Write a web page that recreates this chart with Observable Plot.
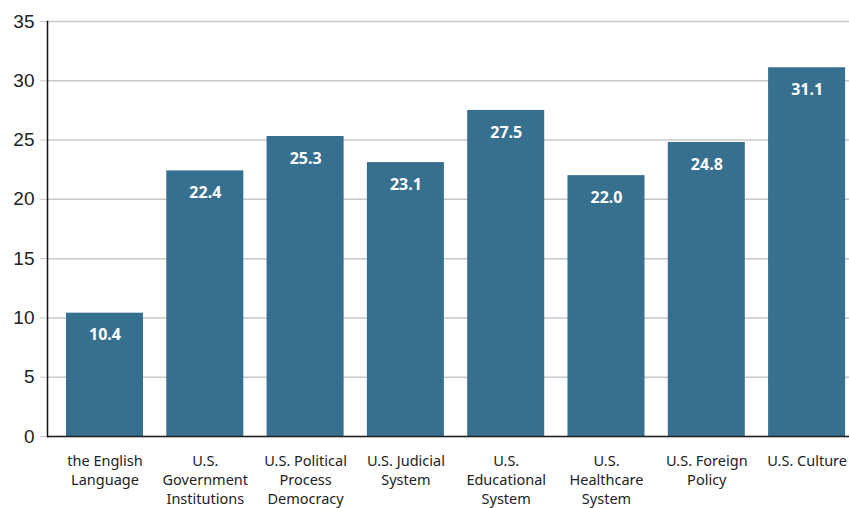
<!DOCTYPE html>
<html>
<head>
<meta charset="utf-8">
<script src="https://cdn.jsdelivr.net/npm/d3@7"></script>
<script src="https://cdn.jsdelivr.net/npm/@observablehq/plot@0.6"></script>
<style>
  html, body { margin: 0; padding: 0; background: #fff; }
  #chart svg { display: block; }
</style>
</head>
<body>
<div id="chart"></div>
<script>
const categories = [
  "the English\nLanguage",
  "U.S.\nGovernment\nInstitutions",
  "U.S. Political\nProcess\nDemocracy",
  "U.S. Judicial\nSystem",
  "U.S.\nEducational\nSystem",
  "U.S.\nHealthcare\nSystem",
  "U.S. Foreign\nPolicy",
  "U.S. Culture"
];
const values = [10.4, 22.4, 25.3, 23.1, 27.5, 22.0, 24.8, 31.1];
const yTicks = [0, 5, 10, 15, 20, 25, 30, 35];

const data = categories.map((c, i) => ({category: c, value: values[i]}));
const barColor = "#376f8f";

const chart = Plot.plot({
  width: 849,
  height: 508,
  marginLeft: 47,
  marginRight: 0,
  marginTop: 21,
  marginBottom: 72,
  style: {fontFamily: "'Noto Sans', sans-serif", background: "#fff"},
  x: {domain: categories, paddingInner: 0.232, paddingOuter: 0.114, align: 0.83, round: false, label: null},
  y: {domain: [0, 35], label: null},
  marks: [
    Plot.gridY(yTicks, {stroke: "#c8c8c8", strokeOpacity: 1, strokeWidth: 1.5}),
    Plot.axisY(yTicks, {tickSize: 7, tickPadding: 6, stroke: "#c8c8c8", fontSize: 19, fill: "#222", fontFamily: "'Liberation Sans', Arial, sans-serif", label: null}),
    Plot.barY(data, {x: "category", y: "value", fill: barColor}),
    Plot.text(data, {x: "category", y: "value", text: d => d.value.toFixed(1), dy: 22, fill: "white", fontWeight: "bold", fontSize: 16}),
    Plot.axisX({tickSize: 0, tickPadding: 16, fontSize: 14.5, fill: "#222", lineHeight: 1.3, label: null}),
    Plot.frame({anchor: "left", stroke: "#111", strokeWidth: 1.5}),
    Plot.ruleY([0], {stroke: "#222", strokeWidth: 1.5})
  ]
});
document.getElementById("chart").appendChild(chart);
</script>
</body>
</html>
